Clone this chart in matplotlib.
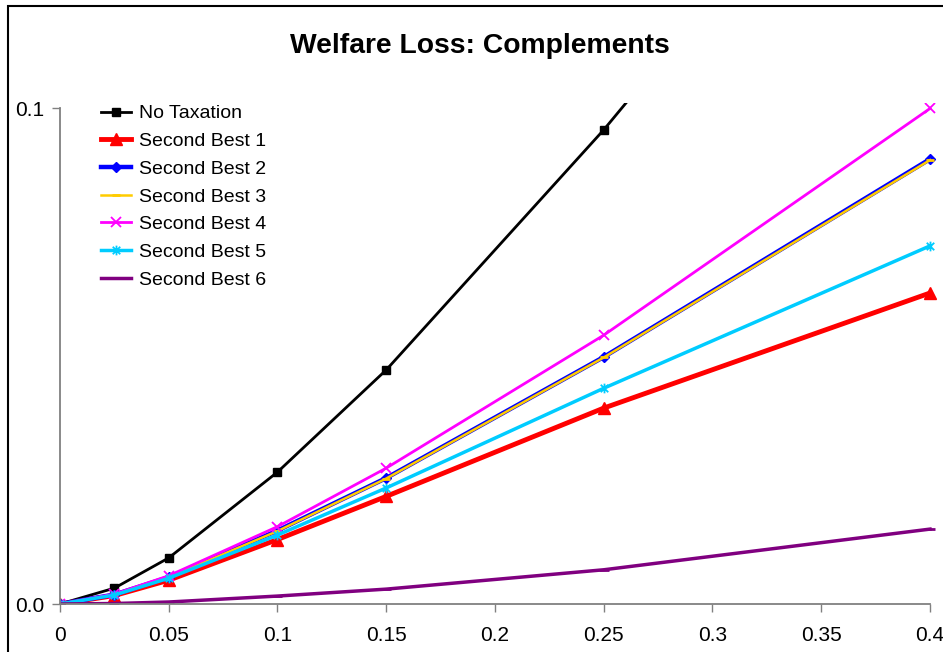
import matplotlib
matplotlib.use("Agg")
import matplotlib.pyplot as plt
import matplotlib.patches as mpatches
from matplotlib.path import Path

plt.rcParams['font.family'] = ['Liberation Sans', 'DejaVu Sans']

# Tax rate values on the x axis
tax_rates = [0, 0.025, 0.05, 0.1, 0.15, 0.25, 0.4]

# Welfare loss for each series
no_taxation = [0, 0.0032, 0.0093, 0.0266, 0.0472, 0.0956, 0.175]
second_best_1 = [0, 0.0017, 0.0048, 0.0130, 0.0217, 0.0395, 0.0627]
second_best_2 = [0, 0.0019, 0.0054, 0.0148, 0.0254, 0.0498, 0.0897]
second_best_3 = [0, 0.0019, 0.0054, 0.0147, 0.0253, 0.0497, 0.0895]
second_best_4 = [0, 0.0020, 0.0057, 0.0156, 0.0274, 0.0542, 0.0999]
second_best_5 = [0, 0.0018, 0.0052, 0.0139, 0.0234, 0.0435, 0.0722]
second_best_6 = [0, 0.0001, 0.0004, 0.0016, 0.0030, 0.0069, 0.0151]

x_ticks = [0, 0.05, 0.1, 0.15, 0.2, 0.25, 0.3, 0.35, 0.4]
y_ticks = [0.0, 0.1]

# Excel style asterisk marker: an x with a vertical stroke
asterisk = Path([(-1, -1), (1, 1), (-1, 1), (1, -1), (0, -1.3), (0, 1.3)],
                [Path.MOVETO, Path.LINETO, Path.MOVETO, Path.LINETO,
                 Path.MOVETO, Path.LINETO])

fig = plt.figure(figsize=(9.43, 6.52), dpi=100)
W, H = 943, 652

# axes placed in pixel terms: x=0 at 60px, x=0.4 at 930px; y=0 at 604px, y=0.1 at 108px
x_max = 0.405
y_max = 0.101
left = 60 / W
bottom = 1 - 604 / H
width = (930 - 60) / W * (x_max / 0.4)
height = (604 - 108) / H * (y_max / 0.1)
ax = fig.add_axes([left, bottom, width, height])

ax.plot(tax_rates, no_taxation, color='black', lw=2, marker='s', ms=6,
        label='No Taxation')
ax.plot(tax_rates, second_best_1, color='#FF0000', lw=3.5, marker='^', ms=8,
        label='Second Best 1')
ax.plot(tax_rates, second_best_2, color='#0000FF', lw=3.2, marker='D', ms=5.5,
        label='Second Best 2')
ax.plot(tax_rates, second_best_3, color='#FFCC00', lw=1.8, marker='_', ms=6,
        mew=2, label='Second Best 3')
ax.plot(tax_rates, second_best_4, color='#FF00FF', lw=2, marker='x', ms=7,
        mew=1.3, label='Second Best 4')
ax.plot(tax_rates, second_best_5, color='#00CCFF', lw=2.5, marker=asterisk, ms=7,
        mew=1.3, label='Second Best 5')
ax.plot(tax_rates, second_best_6, color='#800080', lw=2.5, marker='_', ms=7,
        mew=2, label='Second Best 6')

ax.set_xlim(0, x_max)
ax.set_ylim(0, y_max)
ax.set_xticks(x_ticks)
ax.set_xticklabels(['%g' % t for t in x_ticks])
ax.set_yticks(y_ticks)
ax.set_yticklabels(['%.1f' % t for t in y_ticks])

for side in ['top', 'right']:
    ax.spines[side].set_visible(False)
for side in ['left', 'bottom']:
    ax.spines[side].set_color('#808080')
    ax.spines[side].set_linewidth(1.3)
ax.spines['left'].set_bounds(0, 0.1)
ax.spines['bottom'].set_bounds(0, 0.4)
ax.tick_params(axis='both', direction='out', length=6, width=1, color='#808080',
               labelsize=15, labelcolor='black')
ax.tick_params(axis='x', pad=9.5)
ax.tick_params(axis='y', pad=5)
ax.patch.set_visible(False)

ax.legend(loc='upper left', bbox_to_anchor=(93 / W, 1 - 97 / H),
          bbox_transform=fig.transFigure,
          frameon=False, fontsize=14, handlelength=1.55, handletextpad=0.4,
          labelspacing=0.52, borderaxespad=0)

fig.text(480 / W, 1 - 46 / H, 'Welfare Loss: Complements', ha='center',
         va='center', fontsize=20.3, fontweight='bold')

# outer chart border (cropped at right and bottom)
border = mpatches.Rectangle((8 / W, -0.1), 1.2, 1.1 - 6 / H,
                            transform=fig.transFigure, fill=False,
                            edgecolor='black', lw=1.5)
fig.patches.append(border)

fig.savefig('out.png', dpi=100)
